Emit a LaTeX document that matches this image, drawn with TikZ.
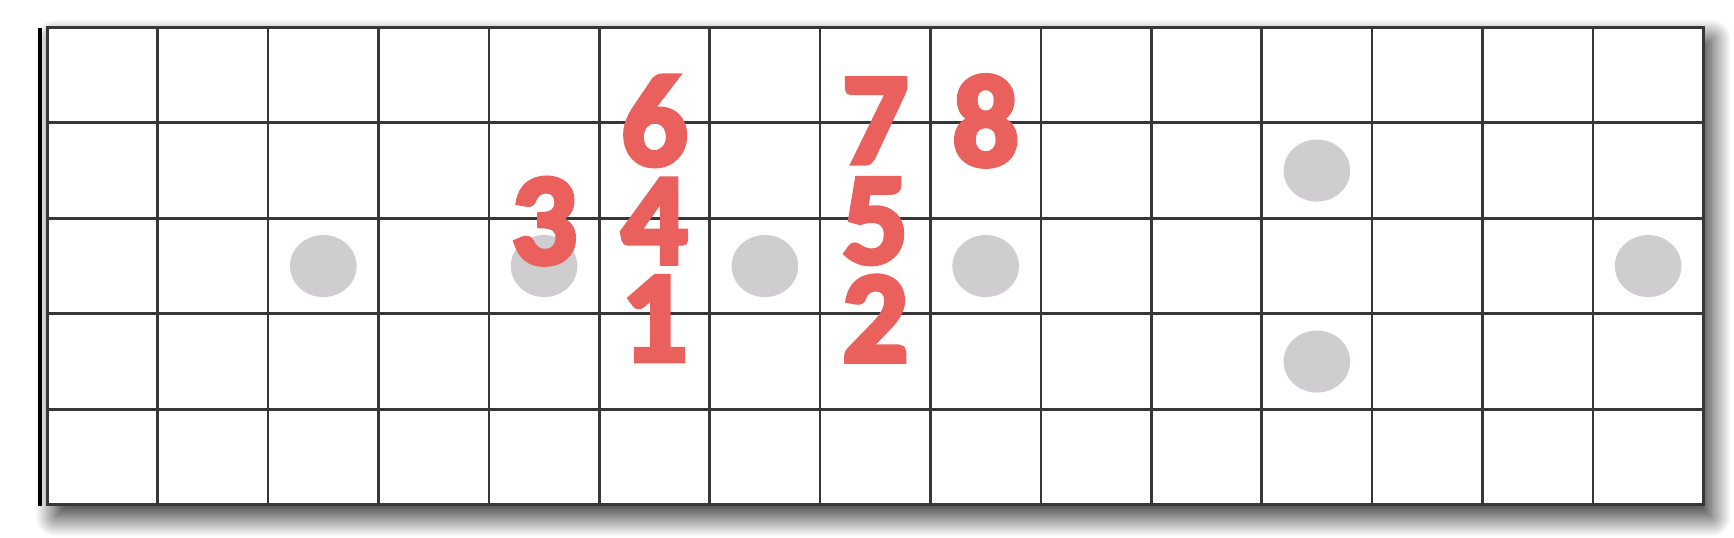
\documentclass[tikz,border=0pt]{standalone}
\usepackage{fontspec}
\setmainfont{Carlito}
\newfontfamily\numfont[FakeBold=4]{Carlito Bold}
\usetikzlibrary{shadows.blur}
\definecolor{numred}{RGB}{233,96,92}
\definecolor{dotgray}{RGB}{207,205,208}
\definecolor{fretline}{RGB}{55,55,55}
\begin{document}
\begin{tikzpicture}[x=1.104cm,y=0.955cm,
num/.style={text=numred,font=\numfont\fontsize{37}{40}\selectfont,inner sep=0pt},
fretdot/.style={fill=dotgray}]
\useasboundingbox(-0.428,-0.346)rectangle(15.278,5.286);
% board with its shadow
\fill[white,blur shadow={shadow xshift=0.8mm,shadow yshift=-1.2mm,shadow blur radius=2mm,shadow blur steps=30,shadow opacity=85}](0,0)rectangle(15,5);
\draw[fretline,line width=0.75pt,xstep=1.104cm,ystep=0.955cm](0,0)grid(15,5);
\draw[fretline,line width=0.8pt](0,0)rectangle(15,5);
\draw[black,line width=1.3pt](-0.064,-0.01)--(-0.064,4.99);
% inlays
\fill[fretdot](2.5,2.5)ellipse[x radius=0.333cm,y radius=0.31cm];
\fill[fretdot](4.5,2.5)ellipse[x radius=0.333cm,y radius=0.31cm];
\fill[fretdot](6.5,2.5)ellipse[x radius=0.333cm,y radius=0.31cm];
\fill[fretdot](8.5,2.5)ellipse[x radius=0.333cm,y radius=0.31cm];
\fill[fretdot](11.5,3.5)ellipse[x radius=0.333cm,y radius=0.31cm];
\fill[fretdot](11.5,1.5)ellipse[x radius=0.333cm,y radius=0.31cm];
\fill[fretdot](14.5,2.5)ellipse[x radius=0.333cm,y radius=0.31cm];
% notes
\node[num](n1)at(5.5,1.95){1};
\node[num](n2)at(7.5,1.95){2};
\node[num](n3)at(4.5,2.97){3};
\node[num](n4)at(5.5,2.97){4};
\node[num](n5)at(7.5,2.97){5};
\node[num](n6)at(5.5,4.02){6};
\node[num](n7)at(7.5,4.02){7};
\node[num](n8)at(8.5,4.02){8};
\end{tikzpicture}
\end{document}
